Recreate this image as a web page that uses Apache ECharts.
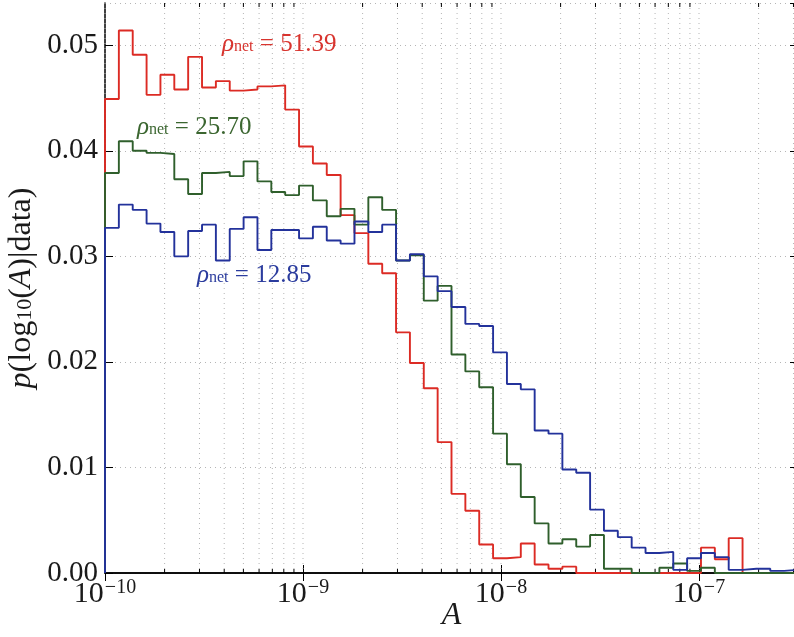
<!DOCTYPE html>
<html>
<head>
<meta charset="utf-8">
<script src="https://cdn.jsdelivr.net/npm/echarts@6/dist/echarts.min.js"></script>
<style>
  html, body { margin: 0; padding: 0; background: #fff; }
  #chart { width: 794px; height: 637px; }
</style>
</head>
<body>
<div id="chart"></div>
<script>
// Histogram bins in log10(A): 50 bins of width 0.07 starting at -10
const binStart = -10;
const binWidth = 0.07;

// p(log10(A)|data) per bin, one series per network SNR
const rho5139 = [
  0.0449, 0.0514, 0.0491, 0.0453, 0.0472, 0.0458, 0.0489, 0.0460, 0.0466, 0.0457,
  0.0458, 0.0461, 0.0462, 0.0439, 0.0404, 0.0388, 0.0377, 0.0339, 0.0322, 0.0293,
  0.0284, 0.0228, 0.0199, 0.0175, 0.0124, 0.0075, 0.0059, 0.0027, 0.0014, 0.0015,
  0.0028, 0.0008, 0.0004, 0.0006, 0.0000, 0.0000, 0.0000, 0.0000, 0.0000, 0.0000,
  0.0000, 0.0000, 0.0000, 0.0024, 0.0013, 0.0033, 0.0000, 0.0000, 0.0000, 0.0000
];
const rho2570 = [
  0.0379, 0.0409, 0.0400, 0.0398, 0.0397, 0.0373, 0.0359, 0.0379, 0.0380, 0.0376,
  0.0390, 0.0371, 0.0361, 0.0358, 0.0367, 0.0353, 0.0338, 0.0345, 0.0330, 0.0356,
  0.0344, 0.0296, 0.0301, 0.0258, 0.0272, 0.0207, 0.0191, 0.0176, 0.0132, 0.0103,
  0.0072, 0.0047, 0.0028, 0.0032, 0.0025, 0.0036, 0.0004, 0.0004, 0.0000, 0.0000,
  0.0005, 0.0009, 0.0002, 0.0005, 0.0000, 0.0000, 0.0000, 0.0000, 0.0000, 0.0000
];
const rho1285 = [
  0.0327, 0.0349, 0.0344, 0.0331, 0.0323, 0.0300, 0.0324, 0.0330, 0.0296, 0.0326,
  0.0337, 0.0306, 0.0325, 0.0325, 0.0317, 0.0328, 0.0315, 0.0312, 0.0333, 0.0323,
  0.0330, 0.0296, 0.0302, 0.0281, 0.0267, 0.0252, 0.0236, 0.0234, 0.0209, 0.0179,
  0.0174, 0.0135, 0.0132, 0.0098, 0.0095, 0.0060, 0.0040, 0.0034, 0.0024, 0.0019,
  0.0020, 0.0003, 0.0014, 0.0019, 0.0015, 0.0003, 0.0004, 0.0004, 0.0002, 0.0003
];

// Axis ranges
const xMinExp = -10;
const xMaxExp = -6.5;
const yMax = 0.054;
const yStep = 0.01;

const serifFont = '"Liberation Serif", "DejaVu Serif", serif';
const colors = { red: '#dc2b24', green: '#2f5f2c', blue: '#23329b' };

// Outline of a step histogram: rises from zero at the first edge
function stepOutline(values) {
  const pts = [[binStart, 0]];
  values.forEach(function (v, i) {
    const x0 = binStart + i * binWidth;
    pts.push([x0, v], [x0 + binWidth, v]);
  });
  return pts;
}

// Positions of major and minor log ticks (k * 10^n) inside the x range
const logGridLines = [];
for (let n = -10; n <= -7; n++) {
  for (let k = 1; k <= 9; k++) {
    const e = n + Math.log10(k);
    if (e >= xMinExp && e <= xMaxExp) logGridLines.push([e, k === 1 ? 0 : 1]);
  }
}

const chart = echarts.init(document.getElementById('chart'), null, { renderer: 'canvas' });

const axisLineStyle = { color: '#000', width: 1.5 };

chart.setOption({
  animation: false,
  backgroundColor: '#fff',
  grid: { left: 105, right: -4, top: 3, bottom: 64, containLabel: false, outerBoundsMode: 'none' },
  xAxis: [
    {
      type: 'value', min: xMinExp, max: xMaxExp, interval: 1, position: 'bottom',
      axisLine: { show: true, lineStyle: axisLineStyle },
      axisTick: { show: true, inside: true, length: 8, lineStyle: { color: '#000', width: 1 } },
      splitLine: { show: false },
      axisLabel: {
        showMaxLabel: false, margin: 5,
        formatter: function (v) { return '{b|10}{e|\u2212' + Math.abs(Math.round(v)) + '}'; },
        rich: {
          b: { fontFamily: serifFont, fontSize: 30, color: '#1a1a1a' },
          e: { fontFamily: serifFont, fontSize: 20, color: '#1a1a1a', padding: [0, 0, 13, 1] }
        }
      },
      name: 'A', nameLocation: 'middle', nameGap: 27, nameMoveOverlap: false,
      nameTextStyle: { fontFamily: serifFont, fontStyle: 'italic', fontSize: 32, color: '#1a1a1a' }
    },
    {
      type: 'value', min: xMinExp, max: xMaxExp, interval: 1, position: 'top',
      axisLine: { show: true, lineStyle: axisLineStyle },
      axisTick: { show: true, inside: true, length: 8, lineStyle: { color: '#000', width: 1 } },
      axisLabel: { show: false }, splitLine: { show: false }
    }
  ],
  yAxis: [
    {
      type: 'value', min: 0, max: yMax, interval: yStep, position: 'left',
      axisLine: { show: true, lineStyle: axisLineStyle },
      axisTick: { show: true, inside: true, length: 8, lineStyle: { color: '#000', width: 1 } },
      splitLine: { show: true, lineStyle: { color: '#b5b5b5', width: 1, type: [1, 4] } },
      axisLabel: {
        showMaxLabel: false, margin: 7,
        fontFamily: serifFont, fontSize: 29, color: '#1a1a1a',
        formatter: function (v) { return v.toFixed(2); }
      },
      name: '{i|p}{n|(log}{s|10}{n|(}{i|A}{n|)|data)}',
      nameLocation: 'middle', nameRotate: 90, nameGap: 60, nameMoveOverlap: false,
      nameTextStyle: {
        rich: {
          i: { fontFamily: serifFont, fontStyle: 'italic', fontSize: 32, color: '#1a1a1a', padding: [0, 0, 7, 0] },
          n: { fontFamily: serifFont, fontSize: 32, color: '#1a1a1a', padding: [0, 0, 7, 0] },
          s: { fontFamily: serifFont, fontSize: 22, color: '#1a1a1a' }
        }
      }
    },
    {
      type: 'value', min: 0, max: yMax, interval: yStep, position: 'right',
      axisLine: { show: true, lineStyle: axisLineStyle },
      axisTick: { show: true, inside: true, length: 8, lineStyle: { color: '#000', width: 1 } },
      axisLabel: { show: false }, splitLine: { show: false }
    }
  ],
  series: [
    {
      // dotted log grid plus minor ticks on the top and bottom axes
      type: 'custom', xAxisIndex: 0, yAxisIndex: 0, z: 1, silent: true,
      data: logGridLines,
      renderItem: function (params, api) {
        const cs = params.coordSys;
        const x = api.coord([api.value(0), 0])[0];
        const top = cs.y, bottom = cs.y + cs.height;
        const children = [{
          type: 'line', shape: { x1: x, y1: top, x2: x, y2: bottom },
          style: { stroke: '#b5b5b5', lineWidth: 1, lineDash: [1, 4] }
        }];
        if (api.value(1) === 1) {
          children.push(
            { type: 'line', shape: { x1: x, y1: bottom, x2: x, y2: bottom - 4 }, style: { stroke: '#000', lineWidth: 1 } },
            { type: 'line', shape: { x1: x, y1: top, x2: x, y2: top + 4 }, style: { stroke: '#000', lineWidth: 1 } }
          );
        }
        return { type: 'group', children: children };
      }
    },
    {
      name: 'rho 51.39', type: 'line', data: stepOutline(rho5139), showSymbol: false,
      z: 3, lineStyle: { color: colors.red, width: 1.9 }, itemStyle: { color: colors.red }
    },
    {
      name: 'rho 25.70', type: 'line', data: stepOutline(rho2570), showSymbol: false,
      z: 3, lineStyle: { color: colors.green, width: 1.9 }, itemStyle: { color: colors.green }
    },
    {
      name: 'rho 12.85', type: 'line', data: stepOutline(rho1285), showSymbol: false,
      z: 3, lineStyle: { color: colors.blue, width: 1.9 }, itemStyle: { color: colors.blue }
    }
  ],
  graphic: [
    { label: '51.39', color: '#d8342e', x: 222, y: 47 },
    { label: '25.70', color: '#3b6630', x: 137, y: 130 },
    { label: '12.85', color: '#2b3c9e', x: 197, y: 278 }
  ].map(function (a) {
    return {
      type: 'text', x: a.x, y: a.y, z: 10, silent: true,
      style: {
        text: '{r|\u03c1}{s|net}{n| = ' + a.label + '}',
        verticalAlign: 'middle', fill: a.color,
        rich: {
          r: { fontFamily: serifFont, fontStyle: 'italic', fontSize: 25, fill: a.color, padding: [0, 0, 5, 0] },
          s: { fontFamily: serifFont, fontSize: 16, fill: a.color },
          n: { fontFamily: serifFont, fontSize: 25, fill: a.color, padding: [0, 0, 5, 0] }
        }
      }
    };
  })
});
</script>
</body>
</html>
